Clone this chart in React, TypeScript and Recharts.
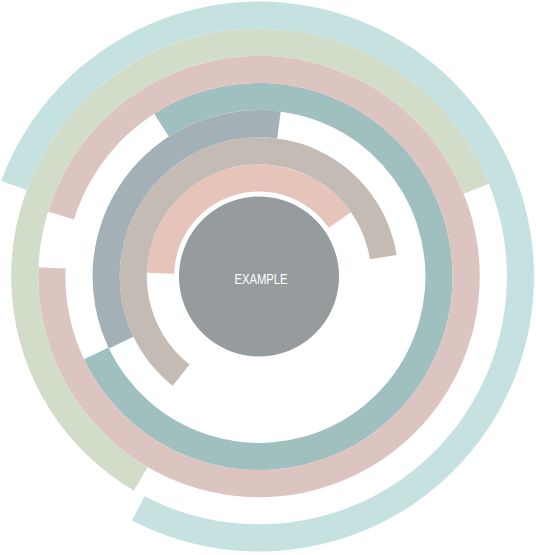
import { PieChart, Pie, Cell, Label } from 'recharts'

// rings listed from the centre outwards
const ringNames = ['A', 'B', 'C', 'D', 'E', 'F', 'G']
// angle (deg, counter-clockwise from 3 o'clock) where each arc begins, arcs run clockwise
const ringStart = [178.1, 231.7, 205.6, 122.8, 162.9, 239.7, 159.6]
// how far each arc runs, in degrees
const ringSweep = [143.2, 222.8, 123.1, 277.5, 345.3, 217.7, 277.1]
const ringColors = ['#e6c4b9', '#c5bbb5', '#a3b1b6', '#a0bfbf', '#dcc4c1', '#d1dcc9', '#c5e2e1']
const centreLabel = 'EXAMPLE'

const CX = 259
const CY = 276.5
const INNER = 85
const OUTER = 275
const BAND = (OUTER - INNER) / ringNames.length

// narrow white caption in the middle of the grey disc
const CentreText = (props: { viewBox?: { cx?: number; cy?: number } }) => {
  const x = props.viewBox?.cx ?? CX
  const y = props.viewBox?.cy ?? CY
  return (
    <text
      x={x + 2}
      y={y + 2}
      textAnchor="middle"
      dominantBaseline="central"
      fill="#ffffff"
      fontSize={14}
      fontFamily="'Liberation Sans', Arial, sans-serif"
      textLength={53}
      lengthAdjust="spacingAndGlyphs"
    >
      {centreLabel}
    </text>
  )
}

export default function App() {
  return (
    <div style={{ position: 'absolute', left: 0, top: 0, width: 536, height: 555 }}>
      <PieChart width={536} height={555} margin={{ top: 0, right: 0, bottom: 0, left: 0 }}>
        <Pie
          data={[{ name: centreLabel, value: 1 }]}
          dataKey="value"
          cx={CX}
          cy={CY}
          innerRadius={0}
          outerRadius={80}
          stroke="none"
          fill="#969b9d"
          isAnimationActive={false}
        >
          <Label position="center" content={<CentreText />} />
        </Pie>
        {ringNames.map((name, i) => (
          <Pie
            key={name}
            data={[
              { name, value: ringSweep[i] },
              { name: name + '-rest', value: 360 - ringSweep[i] },
            ]}
            dataKey="value"
            cx={CX}
            cy={CY}
            innerRadius={INNER + BAND * i}
            outerRadius={INNER + BAND * (i + 1)}
            startAngle={ringStart[i]}
            endAngle={ringStart[i] - 360}
            stroke="none"
            isAnimationActive={false}
          >
            <Cell fill={ringColors[i]} />
            <Cell fill="transparent" />
          </Pie>
        ))}
      </PieChart>
    </div>
  )
}
